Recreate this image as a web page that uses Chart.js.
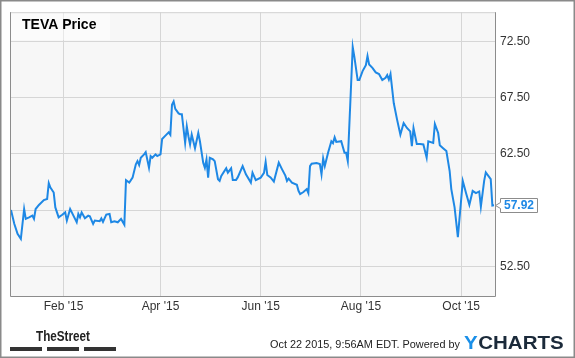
<!DOCTYPE html>
<html>
<head>
<meta charset="utf-8">
<script src="https://cdn.jsdelivr.net/npm/chart.js@4/dist/chart.umd.min.js"></script>
<style>
  html, body { margin: 0; padding: 0; background: #fff; }
  #wrap { width: 575px; height: 358px; }
</style>
</head>
<body>
<div id="wrap"><canvas id="tevaChart"></canvas></div>
<script>
// TEVA closing price (x = days since Jan 1 2015)
const days = [
  -1, 1, 3, 5, 7, 8, 10, 12, 13, 14, 16, 19, 21, 22, 23, 25, 26, 28, 30, 32,
  33, 35, 37, 39, 40, 41, 42, 44, 46, 47, 49, 50, 53, 54, 55, 57, 59, 60, 62, 64,
  66, 68, 69, 71, 73, 75, 76, 77, 78, 80, 81, 83, 84, 85, 87, 88, 90, 91, 93, 95,
  96, 97, 98, 99, 101, 102, 103, 105, 106, 107, 108, 109, 111, 113, 114, 116, 117, 118, 119, 120,
  122, 123, 125, 126, 127, 130, 131, 133, 134, 136, 137, 140, 142, 145, 146, 148, 151, 153, 154, 155,
  157, 159, 162, 164, 166, 167, 168, 170, 173, 174, 175, 177, 179, 180, 181, 182, 185, 187, 188, 189,
  190, 192, 194, 195, 196, 197, 200, 202, 203, 204, 207, 208, 210, 211, 213, 215, 216, 217, 219, 221,
  223, 225, 227, 228, 229, 230, 232, 234, 236, 238, 240, 242, 243, 244, 246, 248, 250, 252, 253, 256,
  257, 259, 260, 262, 264, 266, 267, 269, 271, 274, 276, 278, 280, 282, 284, 285, 287, 288, 291, 292,
  293
];
const prices = [
  57.50, 56.27, 55.39, 54.94, 57.59, 56.71, 56.85, 57.00, 56.71, 57.59, 57.95, 58.39, 58.48, 59.89, 59.50, 59.06, 57.73, 56.85, 57.06, 57.29,
  56.56, 57.59, 57.00, 56.41, 57.15, 56.85, 57.29, 56.76, 57.00, 56.94, 56.27, 56.56, 56.50, 56.75, 56.45, 57.09, 57.15, 56.41, 56.50, 56.41,
  56.71, 56.20, 60.15, 59.94, 60.38, 61.56, 61.85, 61.50, 62.15, 62.45, 62.65, 61.27, 62.30, 62.15, 62.45, 62.30, 62.45, 63.82, 64.12, 64.41,
  64.20, 66.86, 67.15, 66.50, 66.10, 66.03, 66.03, 63.47, 64.94, 64.06, 63.33, 64.21, 63.00, 64.35, 63.62, 61.70, 61.26, 62.00, 60.38, 62.15,
  62.00, 61.85, 60.24, 60.09, 60.53, 61.21, 60.82, 61.21, 60.18, 60.18, 60.40, 61.41, 60.68, 59.94, 60.82, 60.15, 60.38, 60.80, 61.77, 60.62,
  60.40, 60.03, 61.71, 61.12, 60.56, 60.09, 60.30, 59.94, 59.74, 59.21, 58.92, 59.10, 59.36, 59.00, 61.41, 61.62, 61.68, 61.60, 60.68, 62.09,
  61.41, 62.59, 63.62, 63.45, 63.97, 63.56, 63.62, 62.59, 62.59, 61.85, 72.00, 71.12, 69.06, 69.06, 69.86, 70.39, 71.21, 70.44, 70.15, 69.74,
  69.60, 69.06, 69.26, 69.50, 69.10, 69.60, 67.00, 65.54, 64.21, 65.24, 64.80, 64.50, 63.18, 64.80, 63.38, 63.38, 63.33, 62.15, 63.62, 63.47,
  65.15, 64.35, 63.27, 63.00, 62.74, 60.97, 59.36, 57.73, 55.09, 60.09, 59.00, 57.97, 59.20, 59.00, 59.15, 57.80, 60.09, 60.85, 60.24, 57.90,
  57.92
];

const xTickDays = [31, 90, 151, 212, 273];
const xTickLabels = ["Feb '15", "Apr '15", "Jun '15", "Aug '15", "Oct '15"];
const yTicks = [52.5, 57.5, 62.5, 67.5, 72.5];

const FONT = '"Liberation Sans", Arial, sans-serif';
Chart.defaults.font.family = FONT;
Chart.defaults.font.size = 12;
Chart.defaults.color = "#333";

// background, frame, title box, last value tag and footer
const decor = {
  id: "decor",
  beforeDraw(chart) {
    const { ctx, chartArea: a } = chart;
    ctx.save();
    ctx.fillStyle = "#fff";
    ctx.fillRect(0, 0, chart.width, chart.height);
    ctx.fillStyle = "#f7f7f7";
    ctx.fillRect(a.left, a.top, a.right - a.left, a.bottom - a.top);
    ctx.restore();
  },
  afterDatasetsDraw(chart) {
    const { ctx, chartArea: a, scales } = chart;
    ctx.save();
    // title box
    ctx.fillStyle = "rgba(255,255,255,0.45)";
    ctx.fillRect(a.left, a.top, 100, 28);
    ctx.fillStyle = "#000";
    ctx.font = "bold 14px " + FONT;
    ctx.textBaseline = "alphabetic";
    ctx.fillText("TEVA Price", 22, 29);

    // frame
    ctx.lineWidth = 1;
    ctx.strokeStyle = "#d2d2d2";
    ctx.beginPath();
    ctx.moveTo(a.left, a.top + 0.5);
    ctx.lineTo(a.right, a.top + 0.5);
    ctx.stroke();
    ctx.strokeStyle = "#8c8c8c";
    ctx.beginPath();
    ctx.moveTo(a.left + 0.5, a.top);
    ctx.lineTo(a.left + 0.5, a.bottom + 0.5);
    ctx.lineTo(a.right + 0.5, a.bottom + 0.5);
    ctx.lineTo(a.right + 0.5, a.top);
    ctx.stroke();

    // last value tag
    const last = prices[prices.length - 1];
    const py = Math.round(scales.y.getPixelForValue(last));
    const bx = a.right + 5, bw = 37, bh = 14;
    ctx.beginPath();
    ctx.moveTo(bx + 0.5, py - bh / 2 + 0.5);
    ctx.lineTo(bx + bw + 0.5, py - bh / 2 + 0.5);
    ctx.lineTo(bx + bw + 0.5, py + bh / 2 + 0.5);
    ctx.lineTo(bx + 0.5, py + bh / 2 + 0.5);
    ctx.lineTo(bx + 0.5, py + 3.5);
    ctx.lineTo(a.right + 0.5, py + 0.5);
    ctx.lineTo(bx + 0.5, py - 2.5);
    ctx.closePath();
    ctx.fillStyle = "#fff";
    ctx.fill();
    ctx.strokeStyle = "#8c8c8c";
    ctx.stroke();
    ctx.fillStyle = "#1e88e5";
    ctx.font = "bold 12px " + FONT;
    ctx.textBaseline = "middle";
    ctx.textAlign = "left";
    ctx.fillText(last.toFixed(2), bx + 4, py + 1);
    ctx.restore();
  },
  afterDraw(chart) {
    const { ctx } = chart;
    ctx.save();
    // TheStreet logo
    ctx.fillStyle = "#222";
    ctx.font = "bold 15px " + FONT;
    ctx.textBaseline = "alphabetic";
    ctx.fillText("TheStreet", 36, 341, 54);
    ctx.fillStyle = "#333";
    ctx.fillRect(10, 347, 32, 4);
    ctx.fillRect(47, 347, 32, 4);
    ctx.fillRect(84, 347, 32, 4);

    // stamp
    ctx.fillStyle = "#222";
    ctx.font = "11px " + FONT;
    ctx.textBaseline = "middle";
    ctx.fillText("Oct 22 2015, 9:56AM EDT. Powered by", 270, 345, 190);

    // YCHARTS
    ctx.font = "bold 19px " + FONT;
    ctx.textBaseline = "alphabetic";
    ctx.translate(464, 348.5);
    ctx.scale(1.08, 1);
    ctx.fillStyle = "#1a8fe8";
    ctx.fillText("Y", 0, 0);
    const yw = ctx.measureText("Y").width;
    ctx.fillStyle = "#1b2a3a";
    ctx.fillText("CHARTS", yw + 0.5, 0);
    ctx.restore();

    // outer border
    ctx.save();
    ctx.strokeStyle = "#8a8a8a";
    ctx.lineWidth = 1.5;
    ctx.strokeRect(0.75, 0.75, chart.width - 1.5, chart.height - 1.5);
    ctx.restore();
  }
};

new Chart(document.getElementById("tevaChart"), {
  type: "line",
  data: {
    datasets: [{
      label: "TEVA Price",
      data: days.map((d, i) => ({ x: d, y: prices[i] })),
      borderColor: "#1e88e5",
      borderWidth: 2,
      pointRadius: 0,
      tension: 0,
      fill: false
    }]
  },
  options: {
    responsive: true,
    maintainAspectRatio: false,
    animation: false,
    layout: { padding: { left: 10, top: 10, right: 0, bottom: 0 } },
    plugins: {
      legend: { display: false },
      tooltip: { enabled: false }
    },
    scales: {
      x: {
        type: "linear",
        min: -1.6,
        max: 293.6,
        afterBuildTicks: s => { s.ticks = xTickDays.map(v => ({ value: v })); },
        afterFit: s => { s.height = 62; },
        ticks: {
          color: "#333",
          padding: 3,
          maxRotation: 0,
          autoSkip: false,
          callback: (v, i) => xTickLabels[i]
        },
        grid: { color: "#d6d6d6", drawTicks: false },
        border: { display: false }
      },
      y: {
        position: "right",
        min: 49.85,
        max: 75.1,
        afterBuildTicks: s => { s.ticks = yTicks.map(v => ({ value: v })); },
        afterFit: s => { s.width = 80; },
        ticks: {
          color: "#333",
          padding: 5,
          callback: v => Number(v).toFixed(2)
        },
        grid: { color: "#d6d6d6", drawTicks: false },
        border: { display: false }
      }
    }
  },
  plugins: [decor]
});
</script>
</body>
</html>
